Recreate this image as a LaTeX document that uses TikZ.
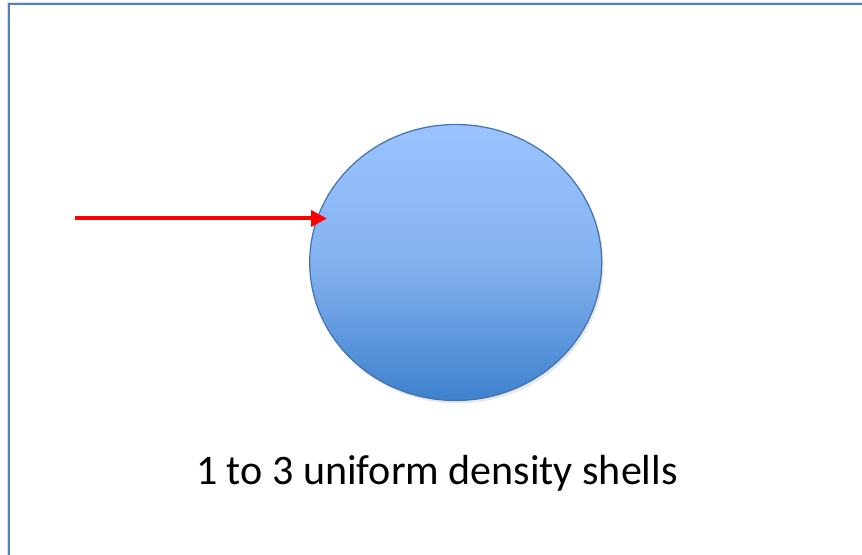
\documentclass[tikz,border=0pt]{standalone}
\usepackage{fontspec}
\setmainfont{Carlito}
\usetikzlibrary{shapes.geometric,arrows.meta,shadows}
\definecolor{frameblue}{RGB}{79,129,189}
\definecolor{ballline}{RGB}{65,113,178}
\definecolor{balltop}{RGB}{155,196,255}
\definecolor{ballmid}{RGB}{132,178,240}
\definecolor{ballbot}{RGB}{62,129,205}
\definecolor{arrowred}{RGB}{255,0,0}
\tikzset{
  frame/.style={draw=frameblue, line width=2bp},
  ball/.style={ellipse, draw=ballline, line width=1.2bp, inner sep=0pt,
    minimum width=292bp, minimum height=276bp,
    top color=balltop, bottom color=ballbot, middle color=ballmid,
    drop shadow={opacity=0.18, shadow xshift=2bp, shadow yshift=-3bp}},
  redarrow/.style={draw=arrowred, line width=4bp,
    -{Triangle[length=16bp,width=16bp]}},
  caption/.style={font=\fontsize{42.2}{50}\selectfont, inner sep=0pt, anchor=base}
}
\begin{document}
\begin{tikzpicture}[x=1bp,y=-1bp]
\useasboundingbox (0,0) rectangle (862,555);
\begin{scope}
\clip (0,0) rectangle (862,555);
\fill[black!12] (6.5,2.5) rectangle (880,580);
\fill[white] (8.5,4.5) rectangle (880,580);
\draw[frame] (8.5,4.5) rectangle (880,580);
\end{scope}
\node[ball] (shell) at (455.7,262.5) {};
\coordinate (start) at (75,218.5);
\coordinate (tip) at (327,218.5);
\draw[redarrow] (start) -- (tip);
\node[caption] (label) at (437,484) {1 to 3 uniform density shells};
\end{tikzpicture}
\end{document}
